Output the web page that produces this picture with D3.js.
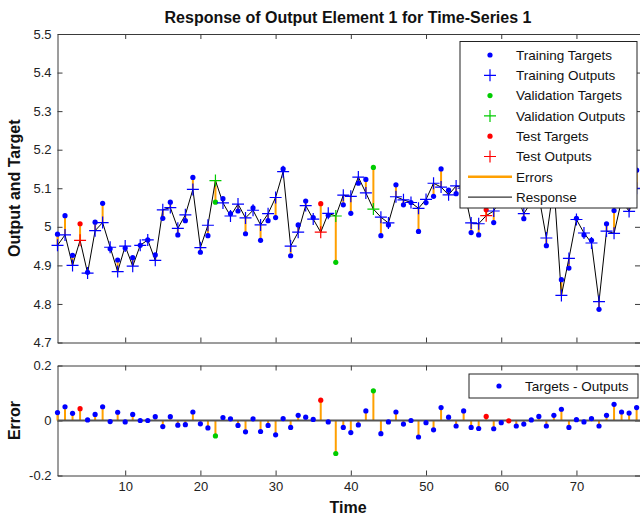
<!DOCTYPE html>
<html>
<head>
<meta charset="utf-8">
<script src="https://cdn.jsdelivr.net/npm/d3@7"></script>
<style>
  body { margin: 0; background: #fff; }
  svg { display: block; font-family: "Liberation Sans", Arial, sans-serif; }
</style>
</head>
<body>
<div id="chart"></div>
<script>
const width = 640;
const height = 517;

// time steps 1..78 visible in the crop
const targets = [
  4.981, 5.029, 4.926, 5.008, 4.882, 5.012, 5.061, 4.943, 4.914, 4.945,
  4.920, 4.952, 4.966, 4.927, 5.022, 5.064, 4.979, 5.016, 5.128, 4.934,
  4.977, 5.064, 5.073, 5.034, 5.041, 4.982, 5.049, 4.965, 5.016, 5.024,
  5.150, 4.925, 5.005, 5.067, 5.024, 5.060, 5.030, 4.908, 5.057, 5.035,
  5.113, 5.123, 5.154, 4.977, 5.005, 5.109, 5.057, 5.063, 4.988, 5.063,
  5.079, 5.150, 5.095, 5.086, 5.135, 4.985, 4.979, 5.044, 5.011, 5.067,
  5.079, 5.065, 5.021, 5.067, 5.095, 4.951, 5.129, 4.863, 4.893, 5.022,
  4.979, 4.965, 4.786, 5.008, 5.042, 5.100, 5.067, 5.147
];
const outputs = [
  4.952, 4.979, 4.900, 4.965, 4.880, 4.990, 5.011, 4.947, 4.884, 4.950,
  4.898, 4.952, 4.966, 4.913, 5.044, 5.050, 4.996, 5.031, 5.097, 4.946,
  5.004, 5.120, 5.062, 5.028, 5.059, 5.023, 5.043, 5.005, 5.034, 5.076,
  5.143, 4.950, 4.986, 5.055, 5.020, 4.986, 5.035, 5.028, 5.082, 5.079,
  5.129, 5.088, 5.046, 5.025, 5.010, 5.078, 5.070, 5.063, 5.048, 5.071,
  5.113, 5.103, 5.083, 5.106, 5.100, 5.010, 5.008, 5.029, 5.041, 5.075,
  5.080, 5.085, 5.034, 5.065, 5.080, 4.971, 5.110, 4.822, 4.918, 5.019,
  4.984, 4.958, 4.806, 4.989, 4.983, 5.069, 5.040, 5.100
];
const validationSteps = [22, 38, 43];
const testSteps = [4, 36, 58, 61];

const xTicks = [10, 20, 30, 40, 50, 60, 70];
const yTopTicks = [4.7, 4.8, 4.9, 5.0, 5.1, 5.2, 5.3, 5.4, 5.5];
const yTopLabels = ["4.7", "4.8", "4.9", "5", "5.1", "5.2", "5.3", "5.4", "5.5"];
const yErrTicks = [-0.2, 0, 0.2];
const yErrLabels = ["-0.2", "0", "0.2"];

const legendTop = [
  { label: "Training Targets", kind: "dot", color: "#0000ff" },
  { label: "Training Outputs", kind: "plus", color: "#0000ff" },
  { label: "Validation Targets", kind: "dot", color: "#00cc00" },
  { label: "Validation Outputs", kind: "plus", color: "#00cc00" },
  { label: "Test Targets", kind: "dot", color: "#ff0000" },
  { label: "Test Outputs", kind: "plus", color: "#ff0000" },
  { label: "Errors", kind: "line", color: "#ffa000" },
  { label: "Response", kind: "line", color: "#000" }
];

const colors = { train: "#0000ff", val: "#00cc00", test: "#ff0000" };
const errColor = "#ffa000";
const axisColor = "#3a3a3a";

const data = targets.map((t, i) => {
  const step = i + 1;
  const set = testSteps.includes(step) ? "test" : validationSteps.includes(step) ? "val" : "train";
  return { step, target: t, output: outputs[i], error: t - outputs[i], set };
});

const x = d3.scaleLinear().domain([1, 78.45]).range([57.5, 640]);
const yTop = d3.scaleLinear().domain([4.7, 5.5]).range([342.5, 34]);
const yErr = d3.scaleLinear().domain([-0.2, 0.2]).range([475.5, 365.5]);

const svg = d3.select("#chart").append("svg")
  .attr("width", width)
  .attr("height", height);

const plusPath = "M-6,0H6M0,-6V6";

function frame(y, ticks, labels, showX) {
  const [x0, x1] = x.range();
  const [yb, yt] = y.range();

  const g = svg.append("g").attr("class", "frame");

  g.append("g")
    .attr("transform", `translate(0,${yb})`)
    .call(d3.axisBottom(x).tickValues(xTicks).tickSizeInner(-5).tickSizeOuter(0).tickPadding(6)
      .tickFormat(showX ? d3.format("d") : () => ""));
  g.append("g")
    .attr("transform", `translate(0,${yt})`)
    .call(d3.axisTop(x).tickValues(xTicks).tickSizeInner(-5).tickSizeOuter(0).tickFormat(() => ""));
  g.append("g")
    .attr("transform", `translate(${x0},0)`)
    .call(d3.axisLeft(y).tickValues(ticks).tickSizeInner(-5).tickSizeOuter(0).tickPadding(6)
      .tickFormat((d, i) => labels[i]));
  g.append("g")
    .attr("transform", `translate(${x1},0)`)
    .call(d3.axisRight(y).tickValues(ticks).tickSizeInner(-5).tickSizeOuter(0).tickFormat(() => ""));

  g.selectAll(".domain").attr("stroke", axisColor);
  g.selectAll(".tick line").attr("stroke", axisColor);
  g.selectAll(".tick text")
    .attr("fill", "#222")
    .attr("font-size", 13)
    .attr("font-family", "Liberation Sans, Arial, sans-serif");
  return g;
}

// ---- top plot: response ----
frame(yTop, yTopTicks, yTopLabels, false);

svg.append("g")
  .selectAll("line")
  .data(data)
  .join("line")
  .attr("x1", d => x(d.step))
  .attr("x2", d => x(d.step))
  .attr("y1", d => yTop(d.target))
  .attr("y2", d => yTop(d.output))
  .attr("stroke", errColor)
  .attr("stroke-width", 2);

svg.append("path")
  .datum(data)
  .attr("fill", "none")
  .attr("stroke", "#000")
  .attr("stroke-width", 1)
  .attr("d", d3.line().x(d => x(d.step)).y(d => yTop(d.output)));

svg.append("g")
  .selectAll("circle")
  .data(data)
  .join("circle")
  .attr("cx", d => x(d.step))
  .attr("cy", d => yTop(d.target))
  .attr("r", 2.6)
  .attr("fill", d => colors[d.set]);

svg.append("g")
  .selectAll("path")
  .data(data)
  .join("path")
  .attr("transform", d => `translate(${x(d.step)},${yTop(d.output)})`)
  .attr("d", plusPath)
  .attr("stroke", d => colors[d.set])
  .attr("stroke-width", 1.2)
  .attr("fill", "none");

// legend (covers data, like MATLAB)
const leg = svg.append("g").attr("transform", "translate(460,41.5)");
leg.append("rect")
  .attr("width", 177).attr("height", 166.5)
  .attr("fill", "#fff").attr("stroke", "#222").attr("stroke-width", 1);
legendTop.forEach((item, i) => {
  const cy = 13.5 + i * 20.3;
  if (item.kind === "dot") {
    leg.append("circle").attr("cx", 30).attr("cy", cy).attr("r", 2.6).attr("fill", item.color);
  } else if (item.kind === "plus") {
    leg.append("path").attr("transform", `translate(30,${cy})`).attr("d", plusPath)
      .attr("stroke", item.color).attr("stroke-width", 1.2);
  } else {
    leg.append("line").attr("x1", 8).attr("x2", 52).attr("y1", cy).attr("y2", cy)
      .attr("stroke", item.color).attr("stroke-width", item.color === "#000" ? 1 : 2.5);
  }
  leg.append("text")
    .attr("x", 56).attr("y", cy).attr("dy", "0.35em")
    .attr("font-size", 13.5).attr("fill", "#111")
    .text(item.label);
});

// ---- bottom plot: error ----
frame(yErr, yErrTicks, yErrLabels, true);

svg.append("g")
  .selectAll("line")
  .data(data)
  .join("line")
  .attr("x1", d => x(d.step))
  .attr("x2", d => x(d.step))
  .attr("y1", yErr(0))
  .attr("y2", d => yErr(d.error))
  .attr("stroke", errColor)
  .attr("stroke-width", 2);

svg.append("line")
  .attr("x1", x.range()[0]).attr("x2", x.range()[1])
  .attr("y1", yErr(0)).attr("y2", yErr(0))
  .attr("stroke", "#555").attr("stroke-width", 2);

svg.append("g")
  .selectAll("circle")
  .data(data)
  .join("circle")
  .attr("cx", d => x(d.step))
  .attr("cy", d => yErr(d.error))
  .attr("r", 2.6)
  .attr("fill", d => colors[d.set]);

const leg2 = svg.append("g").attr("transform", "translate(469,374)");
leg2.append("rect")
  .attr("width", 169).attr("height", 24)
  .attr("fill", "#fff").attr("stroke", "#222").attr("stroke-width", 1);
leg2.append("circle").attr("cx", 30).attr("cy", 12).attr("r", 2.6).attr("fill", colors.train);
leg2.append("text")
  .attr("x", 56).attr("y", 12).attr("dy", "0.35em")
  .attr("font-size", 13.5).attr("fill", "#111")
  .text("Targets - Outputs");

// ---- titles ----
svg.append("text")
  .attr("x", 348).attr("y", 23)
  .attr("text-anchor", "middle")
  .attr("font-size", 16).attr("font-weight", "bold").attr("fill", "#111")
  .text("Response of Output Element 1 for Time-Series 1");

svg.append("text")
  .attr("x", 348).attr("y", 513)
  .attr("text-anchor", "middle")
  .attr("font-size", 16).attr("font-weight", "bold").attr("fill", "#111")
  .text("Time");

svg.append("text")
  .attr("transform", `translate(20,${(yTop.range()[0] + yTop.range()[1]) / 2}) rotate(-90)`)
  .attr("text-anchor", "middle")
  .attr("font-size", 16).attr("font-weight", "bold").attr("fill", "#111")
  .text("Output and Target");

svg.append("text")
  .attr("transform", `translate(20,${(yErr.range()[0] + yErr.range()[1]) / 2}) rotate(-90)`)
  .attr("text-anchor", "middle")
  .attr("font-size", 16).attr("font-weight", "bold").attr("fill", "#111")
  .text("Error");
</script>
</body>
</html>
